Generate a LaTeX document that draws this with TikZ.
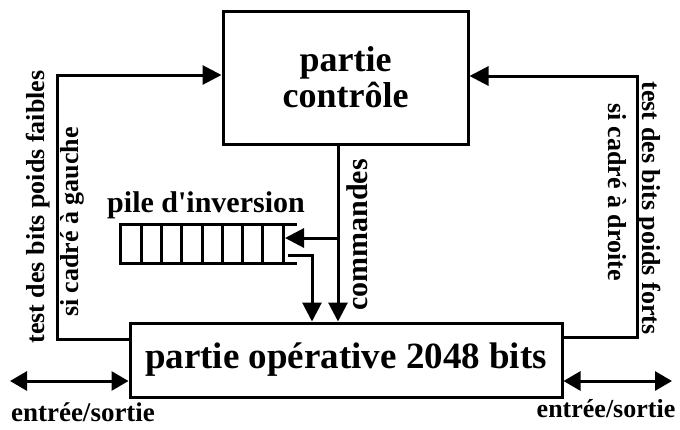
\documentclass[tikz,border=0pt]{standalone}
\usepackage{fontspec}
\setmainfont{Liberation Serif}
\usetikzlibrary{arrows.meta}
\begin{document}
\begin{tikzpicture}[x=1pt,y=-1pt,
  ln/.style={line width=3pt},
  arr/.style={ln,-{Triangle[length=19pt,width=19pt]}},
  darr/.style={ln,{Triangle[length=17pt,width=19pt]}-{Triangle[length=17pt,width=19pt]}},
  box/.style={draw,line width=3pt,inner sep=0pt},
  lbl/.style={font=\bfseries,inner sep=0pt}]
\useasboundingbox (0,0) rectangle (680,429);
% boxes
\node[box,minimum width=245pt,minimum height=133pt,align=center,font=\bfseries\fontsize{36}{36}\selectfont] (ctrl) at (345.5,77.5) {partie\\contrôle};
\node[box,minimum width=432pt,minimum height=74pt,font=\bfseries\fontsize{37}{38}\selectfont] (op) at (346,360) {partie opérative 2048 bits};
% left loop
\coordinate (L1) at (57,339);
\coordinate (L2) at (57,75);
\draw[arr] (L1 -| op.west) -- (L1) -- (L2) -- (L2 -| ctrl.west);
% right loop
\coordinate (R1) at (637,337);
\coordinate (R2) at (637,76);
\draw[arr] (R1 -| op.east) -- (R1) -- (R2) -- (R2 -| ctrl.east);
% side labels
\node[lbl,rotate=90,font=\bfseries\fontsize{26}{28}\selectfont] (tf) at (38,207) {test des bits poids faibles};
\node[lbl,rotate=90,font=\bfseries\fontsize{26}{28}\selectfont] (sg) at (72,222) {si cadré à gauche};
\node[lbl,rotate=-90,font=\bfseries\fontsize{26}{28}\selectfont] (tfo) at (649,208) {test des bits poids forts};
\node[lbl,rotate=-90,font=\bfseries\fontsize{26}{28}\selectfont] (sd) at (617,192) {si cadré à droite};
% commandes
\coordinate (C) at (338,0);
\draw[arr] (C |- ctrl.south) -- (C |- op.north);
\node[lbl,rotate=90,font=\bfseries\fontsize{30}{32}\selectfont] (cmd) at (357,235) {commandes};
% stack
\node[lbl,font=\bfseries\fontsize{30}{32}\selectfont] (pt) at (206,205) {pile d\textquotesingle inversion};
\node[minimum width=176pt,minimum height=38pt,inner sep=0pt] (pile) at (209,244) {};
\draw[ln] (pile.north east) -- (pile.north west) -- (pile.south west) -- (pile.south east);
\foreach \i in {1,...,8} {
  \draw[ln] (121+\i*20.25,225) -- (121+\i*20.25,263);
}
\coordinate (B) at (0,238);
\draw[arr] (C |- B) -- (285,238);
\coordinate (S) at (312,255);
\draw[arr] (288,255) -- (S) -- (S |- op.north);
% I/O
\coordinate (IL) at (10,381);
\coordinate (IR) at (672,381);
\draw[darr] (IL) -- (IL -| op.west);
\draw[darr] (IR -| op.east) -- (IR);
\node[lbl,font=\bfseries\fontsize{27}{28}\selectfont] (esl) at (83,412) {entrée/sortie};
\node[lbl,font=\bfseries\fontsize{26}{28}\selectfont] (esr) at (606,409) {entrée/sortie};
\end{tikzpicture}
\end{document}
